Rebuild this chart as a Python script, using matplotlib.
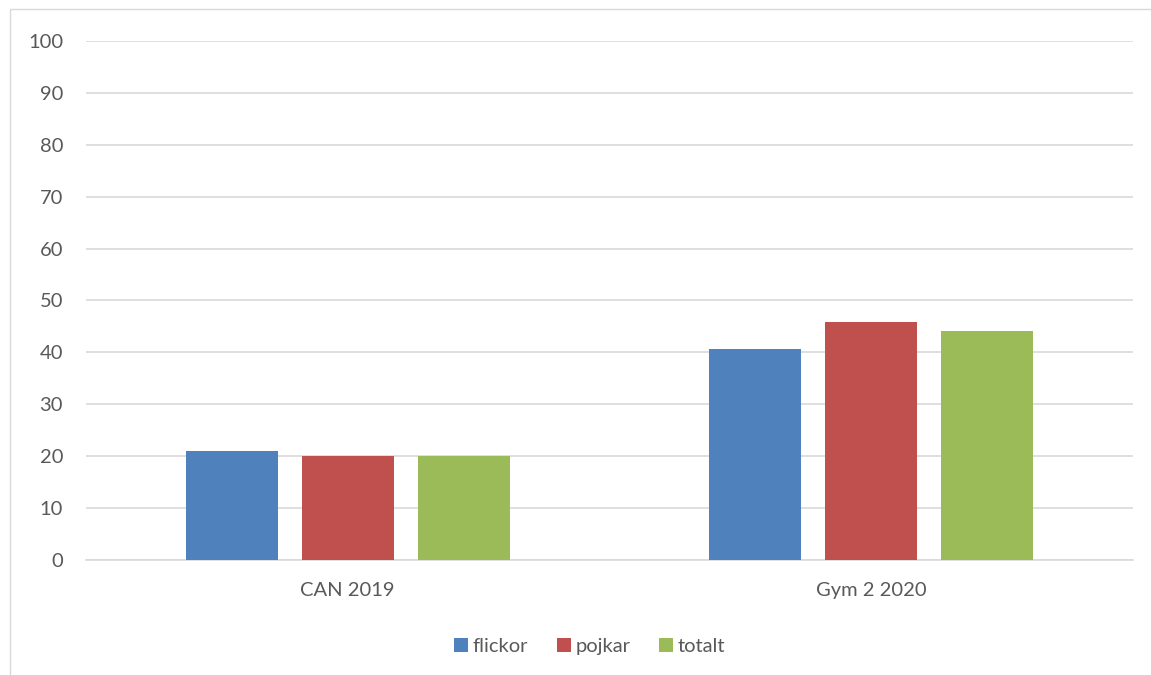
#!/usr/bin/env python3
"""Grouped bar chart: flickor / pojkar / totalt for two surveys."""

import matplotlib
matplotlib.use("Agg")
import matplotlib.pyplot as plt
from matplotlib.patches import Rectangle
import numpy as np

categories = ["CAN 2019", "Gym 2 2020"]
series_names = ["flickor", "pojkar", "totalt"]
flickor = [21.0, 40.7]
pojkar = [20.0, 45.8]
totalt = [20.0, 44.1]
y_ticks = list(range(0, 101, 10))

COLORS = ["#4f81bd", "#c0504d", "#9bbb59"]
TEXT = "#595959"
GRID = "#d9d9d9"

plt.rcParams["font.family"] = ["Lato", "DejaVu Sans"]


def main() -> None:
    fig = plt.figure(figsize=(11.51, 6.75), dpi=100)
    ax = fig.add_axes([0.0747, 0.1704, 0.9097, 0.7689])

    # outer chart frame (only left/top visible in the crop)
    fig.patches.append(Rectangle((10 / 1151, -0.05), 1.2, 1 - 9 / 675 + 0.05,
                                 transform=fig.transFigure, fill=False,
                                 edgecolor=GRID, linewidth=1.0))

    x = np.arange(len(categories))
    width = 0.176
    step = 0.2216
    for i, (name, vals) in enumerate(zip(series_names, [flickor, pojkar, totalt])):
        ax.bar(x + (i - 1) * step, vals, width, color=COLORS[i], label=name, zorder=3)

    ax.set_xlim(-0.5, len(categories) - 0.5)
    ax.set_ylim(0, 100)
    ax.set_yticks(y_ticks)
    ax.set_xticks(x)
    ax.set_xticklabels(categories)
    ax.tick_params(axis="both", length=0, labelsize=14.5, colors=TEXT)
    ax.tick_params(axis="y", pad=16.5)
    ax.tick_params(axis="x", pad=16)
    ax.yaxis.grid(True, color=GRID, linewidth=1.2)
    for side in ["top", "right", "left"]:
        ax.spines[side].set_visible(False)
    ax.spines["bottom"].set_color(GRID)
    ax.spines["bottom"].set_linewidth(1.2)

    ax.legend(loc="center", bbox_to_anchor=(0.481, -0.167), ncol=3, frameon=False,
              fontsize=14.5, labelcolor=TEXT, handlelength=0.7, handleheight=0.7,
              handletextpad=0.25, columnspacing=1.4)

    fig.savefig("out.png", dpi=100)
    plt.close(fig)


if __name__ == "__main__":
    main()
